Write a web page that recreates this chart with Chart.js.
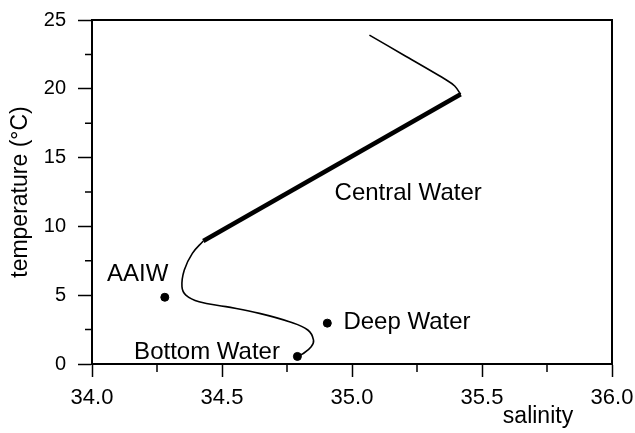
<!DOCTYPE html>
<html>
<head>
<meta charset="utf-8">
<script src="https://cdn.jsdelivr.net/npm/chart.js@4.4.1/dist/chart.umd.min.js"></script>
<style>
  html, body { margin: 0; padding: 0; background: #fff; }
  #wrap { width: 635px; height: 433px; }
</style>
</head>
<body>
<div id="wrap"><canvas id="tsChart"></canvas></div>
<script>
// T-S profile
const upperSal = [35.067, 35.2, 35.363, 35.395, 35.418];
const upperTemp = [23.9, 22.44, 20.64, 20.2, 19.6];

const centralSal = [35.418, 34.428];
const centralTemp = [19.6, 8.94];

const lowerSal = [34.428, 34.386, 34.355, 34.346, 34.361, 34.412, 34.515, 34.644, 34.759, 34.83, 34.852, 34.843, 34.81, 34.789];
const lowerTemp = [8.94, 8.04, 6.83, 5.62, 5.01, 4.53, 4.17, 3.68, 3.07, 2.47, 1.74, 1.26, 0.73, 0.53];

const massNames = ["AAIW", "Deep Water", "Bottom Water"];
const massSal = [34.28, 34.905, 34.79];
const massTemp = [4.85, 2.97, 0.55];

// text labels: name, salinity of left edge, temperature of baseline
const labelText = ["AAIW", "Bottom Water", "Deep Water", "Central Water"];
const labelSal = [34.058, 34.162, 34.967, 34.933];
const labelTemp = [6.03, 0.36, 2.54, 11.92];

const xTicks = [34.0, 34.5, 35.0, 35.5, 36.0];
const yTicks = [0, 5, 10, 15, 20, 25];

const FONT = "'Liberation Sans', Arial, sans-serif";

function pts(xs, ys) {
    return xs.map((x, i) => ({ x: x, y: ys[i] }));
}

const extras = {
    id: "extras",
    afterDraw(chart) {
        const ctx = chart.ctx;
        const a = chart.chartArea;
        const xs = chart.scales.x;
        const ys = chart.scales.y;
        ctx.save();
        ctx.strokeStyle = "#000";
        ctx.lineWidth = 2;
        // frame top + right
        ctx.beginPath();
        ctx.moveTo(a.left, a.top);
        ctx.lineTo(a.right, a.top);
        ctx.lineTo(a.right, a.bottom);
        ctx.stroke();
        // minor ticks
        ctx.lineWidth = 1.5;
        ctx.beginPath();
        for (let v = 2.5; v < 25; v += 5) {
            const py = ys.getPixelForValue(v);
            ctx.moveTo(a.left, py);
            ctx.lineTo(a.left - 7, py);
        }
        for (let v = 34.25; v < 36; v += 0.5) {
            const px = xs.getPixelForValue(v);
            ctx.moveTo(px, a.bottom);
            ctx.lineTo(px, a.bottom + 8);
        }
        ctx.stroke();
        // water mass labels
        ctx.fillStyle = "#000";
        ctx.font = "24px " + FONT;
        ctx.textAlign = "left";
        ctx.textBaseline = "alphabetic";
        labelText.forEach((t, i) => {
            ctx.fillText(t, xs.getPixelForValue(labelSal[i]), ys.getPixelForValue(labelTemp[i]));
        });
        // x axis title
        ctx.font = "23px " + FONT;
        ctx.textAlign = "center";
        ctx.fillText("salinity", a.right - 74, a.bottom + 59);
        ctx.restore();
    }
};

const ctx = document.getElementById("tsChart").getContext("2d");
const tsChart = new Chart(ctx, {
    type: "scatter",
    data: {
        datasets: [
            {
                label: "upper",
                data: pts(upperSal, upperTemp),
                showLine: true,
                borderColor: "#000",
                borderWidth: 1.6,
                pointRadius: 0,
                tension: 0.3,
            },
            {
                label: "lower",
                data: pts(lowerSal, lowerTemp),
                showLine: true,
                borderColor: "#000",
                borderWidth: 1.6,
                pointRadius: 0,
                tension: 0.4,
            },
            {
                label: "Central Water",
                data: pts(centralSal, centralTemp),
                showLine: true,
                borderColor: "#000",
                borderWidth: 4.5,
                borderCapStyle: "butt",
                pointRadius: 0,
            },
            {
                label: "water masses",
                data: pts(massSal, massTemp),
                backgroundColor: "#000",
                borderColor: "#000",
                pointRadius: 4,
            },
        ],
    },
    options: {
        responsive: true,
        maintainAspectRatio: false,
        animation: false,
        layout: { padding: { top: 20, right: 23, left: 0, bottom: 0 } },
        plugins: {
            legend: { display: false },
            tooltip: { enabled: false },
        },
        scales: {
            x: {
                type: "linear",
                min: 34,
                max: 36,
                afterFit(scale) {
                    scale.height = 69;
                    scale.paddingLeft = 0;
                    scale.paddingRight = 0;
                },
                afterBuildTicks(scale) { scale.ticks = xTicks.map(v => ({ value: v })); },
                ticks: {
                    color: "#000",
                    padding: 8,
                    maxRotation: 0,
                    font: { family: FONT, size: 22 },
                    callback: (v) => v.toFixed(1),
                },
                grid: {
                    drawOnChartArea: false,
                    drawTicks: true,
                    tickLength: 13,
                    tickColor: "#000",
                    tickWidth: 1.5,
                },
                border: { display: true, color: "#000", width: 2 },
            },
            y: {
                type: "linear",
                min: 0,
                max: 25,
                afterFit(scale) {
                    scale.width = 92;
                    scale.paddingTop = 0;
                    scale.paddingBottom = 0;
                },
                afterBuildTicks(scale) { scale.ticks = yTicks.map(v => ({ value: v })); },
                ticks: {
                    color: "#000",
                    padding: 12,
                    font: { family: FONT, size: 20 },
                },
                title: {
                    display: true,
                    text: "temperature (°C)",
                    color: "#000",
                    padding: { top: 7, bottom: 0 },
                    font: { family: FONT, size: 23 },
                },
                grid: {
                    drawOnChartArea: false,
                    drawTicks: true,
                    tickLength: 14,
                    tickColor: "#000",
                    tickWidth: 1.5,
                },
                border: { display: true, color: "#000", width: 2 },
            },
        },
    },
    plugins: [extras],
});
</script>
</body>
</html>
